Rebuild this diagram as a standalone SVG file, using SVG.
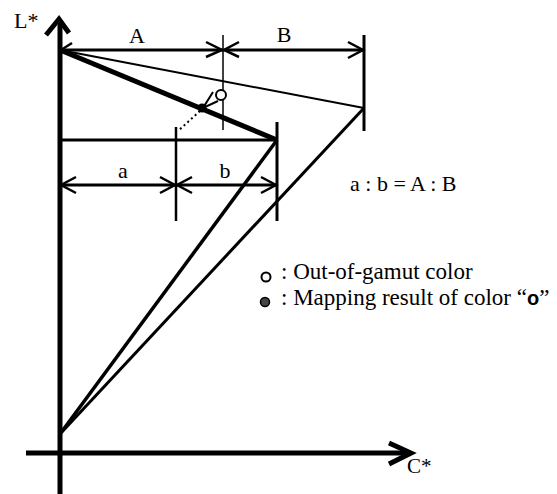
<svg xmlns="http://www.w3.org/2000/svg" width="557" height="494" viewBox="0 0 557 494">
<style>
.t{font-family:"Liberation Serif","Times New Roman",serif;font-size:22px;fill:#000}
.ln{stroke:#000;fill:none;stroke-linecap:butt}
.ah{stroke:#000;fill:none;stroke-width:2.5;stroke-linejoin:miter}
</style>
<rect width="557" height="494" fill="#fff"/>
<g id="axes">
<line class="ln" x1="60" y1="494" x2="60" y2="20" stroke-width="5"/>
<polyline class="ln" points="46,35 59,19 69,33" stroke-width="5"/>
<line class="ln" x1="26" y1="453" x2="410" y2="453" stroke-width="5"/>
<polyline class="ln" points="389,443 411,453 389,464" stroke-width="5"/>
<text class="t" x="14" y="28">L*</text>
<text class="t" x="407" y="473" style="font-size:21px">C*</text>
</g>
<g id="connectors">
<line class="ln" x1="60" y1="50" x2="364" y2="108" stroke-width="2"/>
<line class="ln" x1="60" y1="50" x2="277" y2="140" stroke-width="5"/>
<line class="ln" x1="364" y1="108" x2="60" y2="434" stroke-width="3"/>
<line class="ln" x1="277" y1="140" x2="60" y2="434" stroke-width="3.5"/>
<line class="ln" x1="60" y1="50" x2="364" y2="50" stroke-width="3"/>
<line class="ln" x1="223" y1="35" x2="223" y2="130" stroke-width="1.5"/>
<line class="ln" x1="364" y1="35" x2="364" y2="131" stroke-width="3"/>
<polyline class="ah" points="72,43 61,50"/>
<polyline class="ah" points="206,42 222,50 206,57"/>
<polyline class="ah" points="239,42 224,50 239,57"/>
<polyline class="ah" points="348,42 363,50 348,58"/>
<line class="ln" x1="60" y1="140" x2="277" y2="140" stroke-width="3"/>
<line class="ln" x1="176" y1="127" x2="176" y2="221" stroke-width="2.5"/>
<line class="ln" x1="277" y1="122" x2="277" y2="221" stroke-width="3"/>
<line class="ln" x1="60" y1="185" x2="277" y2="185" stroke-width="3"/>
<polyline class="ah" points="76,177 61,185 76,193"/>
<polyline class="ah" points="160,177 175,185 160,193"/>
<polyline class="ah" points="192,177 177,185 192,193"/>
<polyline class="ah" points="261,177 276,185 261,193"/>
<line class="ln" x1="200" y1="111" x2="178" y2="131" stroke-width="2" stroke-dasharray="2,3"/>
<polyline class="ln" points="213,92 203,108 218,101" stroke-width="2"/>
</g>
<g id="points">
<circle cx="221" cy="95" r="5" fill="#fff" stroke="#000" stroke-width="2"/>
<circle cx="202" cy="108" r="4.5" fill="#000"/>
</g>
<g id="labels">
<text class="t" x="137" y="43" text-anchor="middle">A</text>
<text class="t" x="284" y="42" text-anchor="middle">B</text>
<text class="t" x="123" y="178" text-anchor="middle">a</text>
<text class="t" x="225" y="178" text-anchor="middle">b</text>
<text class="t" x="350" y="191">a : b = A : B</text>
</g>
<g id="legend">
<circle cx="266" cy="277" r="4.5" fill="#fff" stroke="#000" stroke-width="2"/>
<text class="t" x="281" y="279" style="font-size:23px">: Out-of-gamut color</text>
<circle cx="265" cy="302" r="4.5" fill="#444" stroke="#000" stroke-width="1.5"/>
<text class="t" x="281" y="305" style="font-size:23px">: Mapping result of color “<tspan style="font-family:'Liberation Sans',Arial,sans-serif;font-weight:bold;font-size:20px">o</tspan>”</text>
</g>
</svg>
